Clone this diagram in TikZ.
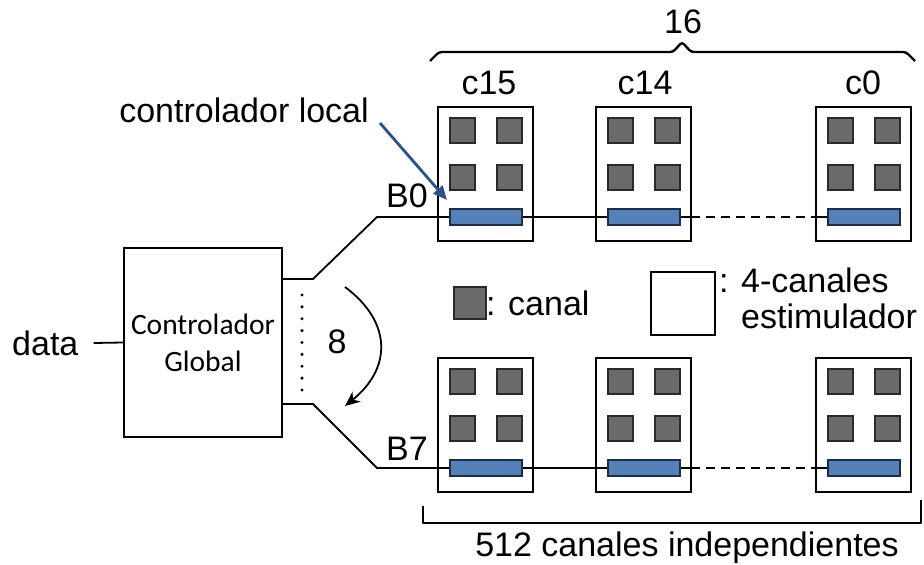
\documentclass[tikz,border=0pt]{standalone}
\usepackage{fontspec}
\setmainfont{Liberation Sans}
\newfontfamily\calfont{Carlito}
\usetikzlibrary{arrows.meta,backgrounds}
\definecolor{chgray}{HTML}{6A6A6A}
\definecolor{chedge}{HTML}{2A2A2A}
\definecolor{barblue}{HTML}{5680B8}
\definecolor{baredge}{HTML}{1E2D44}
\definecolor{arrblue}{HTML}{2B5288}
\tikzset{
  chipbox/.style={draw, line width=1.8pt, minimum width=95pt, minimum height=134pt, inner sep=0pt, outer sep=0pt},
  sq/.style={draw=chedge, fill=chgray, line width=1.6pt, minimum width=25pt, minimum height=25pt, inner sep=0pt, outer sep=0pt},
  busbar/.style={draw=baredge, fill=barblue, line width=1.6pt, minimum width=72pt, minimum height=16pt, inner sep=0pt, outer sep=0pt},
  lbl/.style={inner sep=0pt, font=\fontsize{34}{40}\selectfont},
  wire/.style={line width=1.8pt},
  brace/.style={line width=2.4pt, line join=round}
}
\newcommand\mychip[3]{%
  \node[chipbox, anchor=north west] (#1) at (#2,#3) {};
  \node[sq, anchor=north west] (#1a) at ([shift={(12,11)}]#1.north west) {};
  \node[sq, anchor=north west] (#1b) at ([shift={(59,11)}]#1.north west) {};
  \node[sq, anchor=north west] (#1c) at ([shift={(12,58)}]#1.north west) {};
  \node[sq, anchor=north west] (#1d) at ([shift={(59,58)}]#1.north west) {};
  \node[busbar, anchor=north west] (#1bar) at ([shift={(12,102)}]#1.north west) {};
}
\begin{document}
\begin{tikzpicture}[x=1pt, y=-1pt]
\useasboundingbox (0,0) rectangle (924,565);

% chips
\mychip{tA}{438}{107}
\mychip{tB}{596}{107}
\mychip{tC}{816}{107}
\mychip{bA}{438}{358}
\mychip{bB}{596}{358}
\mychip{bC}{816}{358}

% labels above chips
\node[lbl] (lc15) at (489,83) {c15};
\node[lbl] (lc14) at (645,83) {c14};
\node[lbl] (lc0) at (863,83) {c0};
\node[lbl] (l16) at (683,22) {16};

% top brace
\coordinate (brL) at (430,61);
\coordinate (brR) at (915,61);
\coordinate (brT) at (682,42);
\draw[brace, rounded corners=3pt] (brL) -- (439,52) -- (673,52) -- (brT) -- (691,52) -- (906,52) -- (brR);

% bottom bracket
\coordinate (bbL) at (423,506);
\coordinate (bbR) at (921,500);
\draw[brace] (bbL) -- (423,523) -- (921,523) -- (bbR);
\node[lbl] (l512) at (687,548) {512 canales independientes};

% global controller
\node[draw, line width=1.8pt, minimum width=158pt, minimum height=189pt, inner sep=0pt, align=center,
      font=\calfont\fontsize{29.5}{37}\selectfont] (gc) at (203,342.5) {Controlador\\Global};
\node[lbl, anchor=west] (data) at (12,343) {data};
\draw[wire] (data.east) ++(15,0) coordinate (dstart) -- (gc.west);

% buses (behind bars)
\coordinate (p1) at (313,279);
\coordinate (p2) at (377,217);
\coordinate (q1) at (313,404);
\coordinate (q2) at (377,468);
\begin{scope}[on background layer]
  \draw[wire] (gc.east |- p1) -- (p1) -- (p2) -- (tB.east |- p2);
  \draw[wire, dash pattern=on 9pt off 6pt] (tB.east |- p2) -- (tC.west |- p2);
  \draw[wire] (tC.west |- p2) -- (tCbar.west);
  \draw[wire] (gc.east |- q1) -- (q1) -- (q2) -- (bB.east |- q2);
  \draw[wire, dash pattern=on 9pt off 6pt] (bB.east |- q2) -- (bC.west |- q2);
  \draw[wire] (bC.west |- q2) -- (bCbar.west);
\end{scope}
\node[lbl] (B0) at (407,196) {B0};
\node[lbl] (B7) at (407,449) {B7};

% dots and 8 arrow
\coordinate (d1) at (302,295);
\coordinate (d2) at (302,390);
\draw[line width=3.4pt, line cap=round, dash pattern=on 0pt off 11.875pt] (d1) -- (d2);
\coordinate (a1) at (345,287);
\coordinate (a2) at (345,406);
\draw[wire, -{Stealth[length=15pt,width=13pt]}] (a1) .. controls (392,322) and (392,368) .. (a2);
\node[lbl] (n8) at (337,342) {8};

% controlador local
\node[lbl] (cl) at (244,110) {controlador local};
\coordinate (clS) at (380,123);
\draw[arrblue, line width=2.8pt, -{Triangle[length=14pt,width=12pt]}] (clS) -- ([shift={(-3,-9)}]tAbar.north west);

% legend
\node[sq, minimum width=32pt, minimum height=32pt] (legsq) at (470,303) {};
\node[lbl, anchor=west] (legcanal) at (legsq.east) {: canal};
\node[draw, line width=1.8pt, minimum width=64pt, minimum height=63pt, inner sep=0pt] (legbox) at (683,303.5) {};
\node[lbl, anchor=north west, align=left, font=\fontsize{34}{36}\selectfont] (legtxt) at (719,268) {: 4-canales\\\phantom{: }estimulador};
\end{tikzpicture}
\end{document}
